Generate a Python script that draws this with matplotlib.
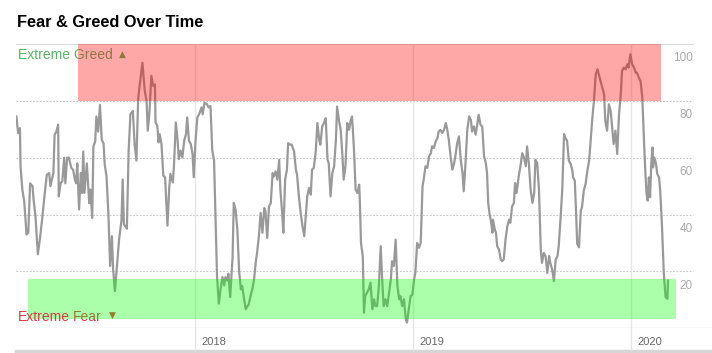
import matplotlib
matplotlib.use("Agg")
import matplotlib.pyplot as plt
import matplotlib.transforms as mtransforms
import pandas as pd

# Fear & Greed index readings, as days since 2017-03-01
START = pd.Timestamp("2017-03-01")
days = [
    # spring - autumn 2017
    7, 10, 13, 14, 17, 20, 22, 24, 27, 30, 34, 36, 39, 43, 47, 50, 54, 58, 62, 64,
    69, 71, 74, 77, 78, 81, 84, 87, 89, 92, 95, 99, 102, 105, 107, 109, 112, 115, 117, 119,
    121, 125, 129, 131, 134, 136, 139, 141, 144, 147, 150, 153, 155, 158, 161, 164, 167, 169, 172, 174,
    179, 183, 185,
    187, 192, 195, 198, 202, 205, 208, 211, 215, 218, 222, 225, 227, 230, 233, 236, 239, 240, 243, 245,
    247, 250, 253, 256, 260, 263, 265, 269, 271, 274, 277, 279, 282, 285, 288, 291, 293, 296, 299, 302,
    304, 307, 310, 313, 317, 319, 322, 326, 329, 332, 335, 338, 341, 343, 346, 349, 352, 355, 357, 360,
    362, 365, 367, 369,
    # 2018
    371, 374, 377, 380, 383, 385, 388, 391, 394, 396, 399, 402, 405, 408, 410, 413, 416, 419, 422, 424,
    427, 430, 433, 436, 438, 441, 444, 447, 449, 452, 454, 457, 460, 462, 465, 468, 472, 475, 477, 480,
    483, 486, 489, 491, 494, 497, 500, 502, 505, 508, 511, 514, 516, 519, 522, 525, 528, 530, 533, 536,
    539, 542, 544, 547, 550, 553,
    555, 558, 561, 564, 567, 569, 572, 575, 578, 581, 582, 584, 587, 589, 591, 594, 597, 600, 603, 606,
    608, 611, 614, 617, 620, 622, 625, 628, 631, 634, 636, 639, 642, 645, 648, 650, 653, 656, 659, 661,
    664, 667, 670, 673, 675, 678, 681, 684, 687, 689, 692, 695, 698, 701, 703, 706, 709, 712, 714, 717,
    720, 723, 726, 728, 731, 734, 737,
    # 2019
    740, 742, 745, 748, 751, 754, 756, 759, 762, 765, 768, 770, 773, 776, 779, 781, 784, 787, 790, 793,
    795, 797, 799, 802, 804, 805, 808, 810, 812, 815, 818, 820, 823, 826, 829, 832, 834, 837, 840, 842,
    844, 846, 848, 851, 854, 857, 860, 862, 865, 868, 871, 874, 876, 879, 882, 885, 887, 890, 893, 896,
    899, 901, 904, 907, 910, 913, 915, 918, 921,
    924, 926, 929, 932, 935, 938, 939, 942, 944, 946, 949, 952, 954, 957, 960, 963, 966, 968, 971, 974,
    977, 980, 982, 985, 988, 991, 993, 996, 999, 1002, 1005, 1007, 1010, 1013, 1016, 1019, 1021, 1024, 1027, 1030,
    1032, 1035, 1038, 1041, 1044, 1046, 1049, 1052, 1055, 1058, 1060, 1062, 1064, 1066, 1068, 1070, 1072, 1073, 1075, 1078,
    1080, 1083, 1085, 1088, 1091, 1094, 1097, 1098,
]
values = [
    74.5, 68.6, 70.4, 57, 48.8, 45, 39.4, 33, 33.6, 51, 50, 45, 39.4, 26, 32.4, 38, 46.4, 54, 54.6, 50,
    54.6, 68, 69.2, 71.6, 46.4, 51, 51.7, 60, 51, 60, 60, 56.4, 55.8, 52.3, 51, 58, 41.8, 54.6, 47.6, 62.2,
    47.6, 58, 44, 48.8, 38.8, 64, 65.7, 74.5, 69.2, 78.6, 66.3, 65, 57.5, 53.4, 40.6, 21.9, 32.4, 20.7, 13.1, 18.4,
    31.2, 38, 52.3,
    36.7, 35, 62.5, 75.3, 76.5, 64.8, 59, 81, 88.2, 93.4, 83.5, 80, 69.5, 76.5, 88.8, 85.3, 85.8, 72.4, 71.2, 65.4,
    68.3, 64.8, 53.7, 53.1, 36.1, 49.6, 54.3, 51.3, 57.8, 72.4, 66, 59.5, 62.5, 60.1, 66, 68.3, 74.2, 66, 64.8, 61.3,
    53.1, 66, 74.2, 75.3, 77.7, 75.3, 79.4, 78.8, 77.7, 78.2, 62.5, 59, 34.4, 18, 8.7, 13.9, 18, 15.1, 18, 16.8,
    19.2, 11, 18, 25,
    44.1, 41.8, 34.7, 20, 13.7, 14.9, 10.8, 6.7, 7.8, 8.4, 11.3, 13.7, 17.2, 23.6, 26.5, 32.4, 40.6, 33.6, 42.3, 41.2,
    31.8, 42.9, 44.1, 54.6, 53.4, 55.2, 52.3, 59.3, 48.8, 40.6, 33.6, 52.3, 55.8, 65.1, 64.6, 64.6, 62.2, 55.8, 54, 46.4,
    40.6, 35.9, 32.4, 38.2, 46.4, 49.4, 47, 55.8, 56.4, 61.6, 72.2, 66.3, 64.6, 71, 72.2, 73.9, 59.3, 58.1, 46.4, 54.6,
    57, 66.3, 78, 73.3, 69.8, 60.5,
    52.3, 57, 72.2, 69.8, 73.3, 74.5, 64, 48.8, 47.6, 50.5, 45.3, 30, 25.4, 5.5, 11.3, 12.5, 13.7, 16, 6.7, 10.2,
    7.8, 7.8, 14.9, 28.9, 14.9, 7.8, 10.2, 7.8, 12.5, 17.2, 23.6, 21.9, 31.2, 14.9, 10.2, 11.3, 7.8, 10.2, 3.2, 2,
    6.7, 11.3, 11.9, 17.2, 19.5, 30, 28.3, 30, 49.9, 52.3, 57, 56.4, 60.5, 61.6, 64, 63.4, 65.7, 66.9, 69.2, 69.8,
    68.7, 69.8, 72.2, 70.4, 66.3, 60.5, 55.8,
    58.1, 60.5, 65.1, 67.5, 59.3, 54.6, 48.2, 58.1, 69.8, 74.5, 73.3, 69.2, 71, 68.1, 72.2, 75.1, 71.6, 71, 60.5, 58.1,
    54.6, 44.1, 40.6, 37.1, 33.6, 38.2, 34.7, 33.6, 28.9, 27.7, 24.2, 23.6, 24.2, 31.2, 35.9, 38.2, 37.1, 42.9, 44.1, 51.1,
    47.6, 49.9, 53.4, 57, 61.6, 59.9, 57, 64, 58.1, 48.8, 44.1, 47.6, 59.3, 58.1, 48.8, 27.7, 23, 26.5, 25.4, 19.5,
    25.4, 23, 20.7, 16.6, 24.2, 25.4, 28.9, 38.2, 48.8,
    68.3, 67.1, 66, 59, 57.8, 55.4, 53.1, 51.9, 41.4, 29.7, 28.5, 41.4, 42.6, 48.4, 50.8, 55.4, 59, 64.8, 73, 80,
    89.4, 91.1, 89.4, 87, 84.7, 82.3, 73, 69.5, 78.8, 76.5, 69.5, 64.8, 69.5, 61.3, 75.3, 82.3, 90.5, 91.7, 91.1, 92.9,
    91.7, 96.4, 92.9, 91.7, 89.9, 89.9, 88.2, 87, 81.2, 64.8, 55.4, 47.3, 44.9, 53.1, 46.1, 57.8, 63.6, 56.6, 60.1, 57.8,
    54.3, 53.1, 48.4, 35.6, 19.2, 11, 10.4, 16.8,
]
assert len(days) == len(values)

y_ticks = [100, 80, 60, 40, 20]
year_labels = ["2018", "2019", "2020"]
greed_zone = (80, 100)
fear_zone = (3.4, 17.2)

dates = START + pd.to_timedelta(days, unit="D")

fig = plt.figure(figsize=(7.12, 3.53), dpi=100)
ax = fig.add_axes([16 / 712, 24.7 / 353, 695 / 712, 284.3 / 353])
ax.set_xlim(START + pd.Timedelta(days=6.4), START + pd.Timedelta(days=1170))
ax.set_ylim(0, 100)
for s in ax.spines.values():
    s.set_visible(False)
ax.set_xticks([])
ax.set_yticks([])

grid_end = (693 - 16) / 695
# horizontal grid
for v in y_ticks[1:]:
    ax.axhline(v, xmin=0, xmax=grid_end, color="#c4c4c4", lw=0.8,
               ls=(0, (1.5, 1.5)), zorder=0)
ax.axhline(100, xmin=0, xmax=grid_end, color="#d8d8d8", lw=1.4, zorder=0)
ax.axhline(0, color="#e4e4e4", lw=1.0, zorder=0)
ax.axhline(-8, color="#d6d6d6", lw=2.5, zorder=0, clip_on=False)

# year separators + labels
lbl_off = mtransforms.offset_copy(ax.transData, fig=fig, x=4.5, y=0, units="points")
for lab in year_labels:
    d = pd.Timestamp(f"{lab}-01-01")
    ax.vlines(d, -8, 100, color="#e6e6e6", lw=1.0, zorder=0, clip_on=False)
    ax.text(d, -4.7, lab, transform=lbl_off, ha="left", va="center",
            fontsize=8, color="#666666", family="Liberation Sans", clip_on=False)

# y labels sit just under each gridline, inside the plot
blend = mtransforms.blended_transform_factory(ax.transAxes, ax.transData)
for v in y_ticks:
    ax.text(grid_end, v - 5, str(v), transform=blend, ha="right", va="center",
            fontsize=8.5, color="#aaaaaa", family="Liberation Sans")

ax.plot(dates, values, color="#999999", lw=1.6, zorder=2, solid_joinstyle="round")

# extreme zones, drawn over the line
ax.axhspan(*greed_zone, xmin=(78 - 16) / 695, xmax=(661 - 16) / 695,
           color="#ff0000", alpha=0.34, lw=0, zorder=3)
ax.axhspan(*fear_zone, xmin=(28 - 16) / 695, xmax=(676 - 16) / 695,
           color="#00ff00", alpha=0.33, lw=0, zorder=3)

green = "#55b460"
red = "#dc3a44"
ax.text(0.003, 96.2, "Extreme Greed", transform=blend, ha="left", va="center",
        fontsize=10, color=green, family="Liberation Sans", zorder=1)
ax.text(0.153, 96.4, "\u25b2", transform=blend, ha="center", va="center",
        fontsize=6.5, color=green, family="DejaVu Sans", zorder=1)
# "Extreme" sits above the green zone, "Fear" under it
fear_a = ax.text(0.003, 4.0, "Extreme", transform=blend, ha="left", va="center",
                 fontsize=10, color=red, family="Liberation Sans", zorder=4)
ax.annotate("Fear", xy=(1, 0.5), xycoords=fear_a, xytext=(1.8, 0),
            textcoords="offset points", ha="left", va="center",
            fontsize=10, color=red, family="Liberation Sans", zorder=1)
ax.text(0.138, 4.6, "\u25bc", transform=blend, ha="center", va="center",
        fontsize=6.5, color=red, family="DejaVu Sans", zorder=1)

fig.text(17 / 712, 1 - 27 / 353, "Fear & Greed Over Time", ha="left",
         va="baseline", fontsize=11.8, fontweight="bold", family="Liberation Sans",
         color="#000000")

fig.savefig("out.png", dpi=100, facecolor="white")
